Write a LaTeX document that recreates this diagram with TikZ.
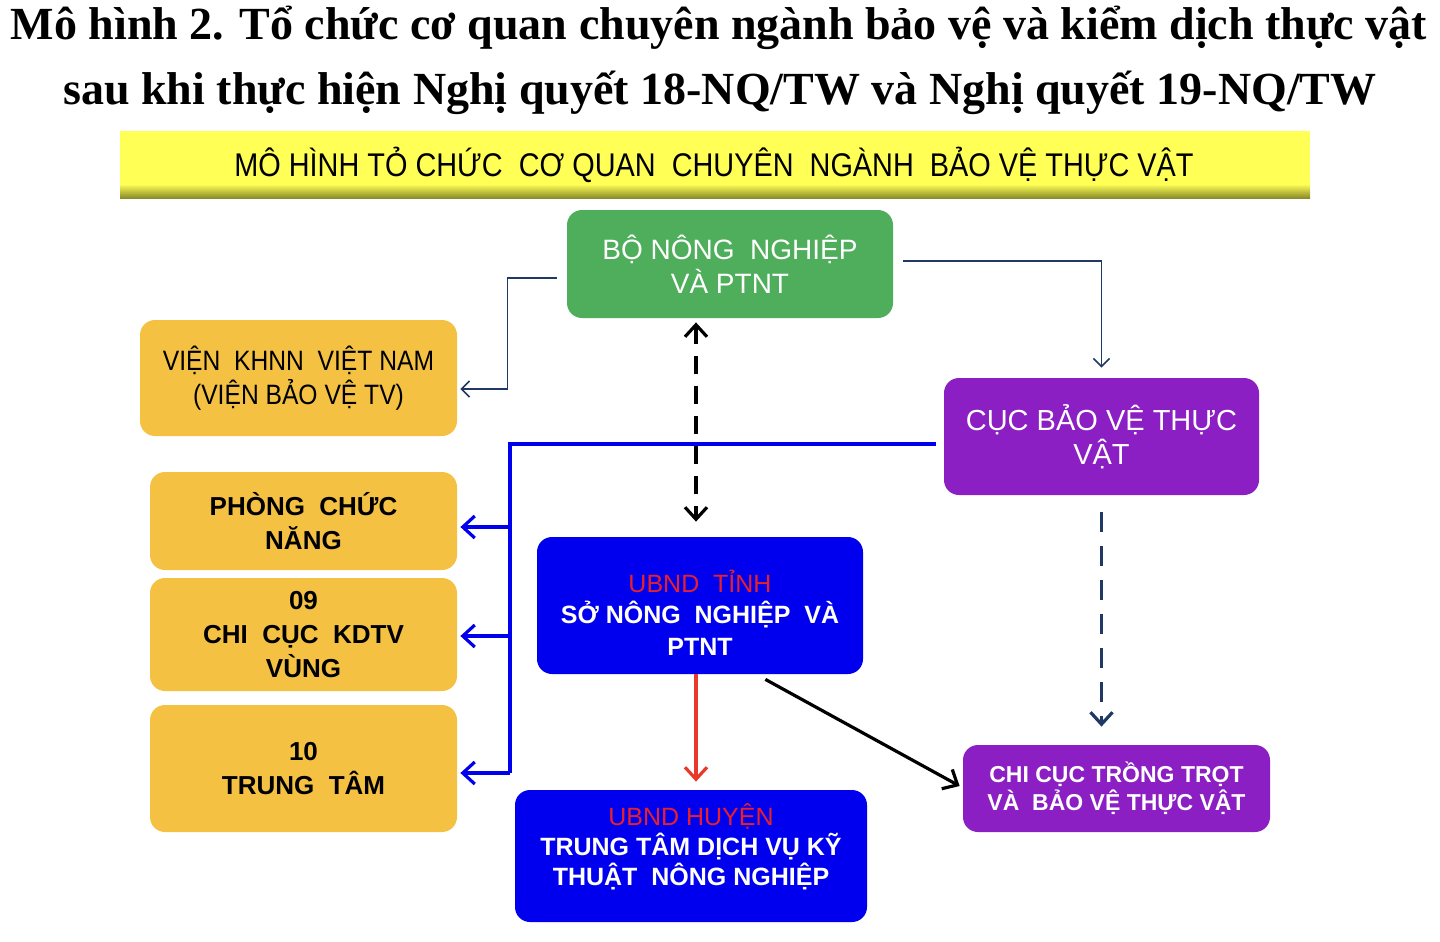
\documentclass[tikz,border=0pt]{standalone}
\usepackage{fontspec}
\setmainfont{Liberation Serif}
\newfontfamily\boxfont{Liberation Sans}
\newfontfamily\narrowfont[FakeStretch=0.88]{Liberation Sans}
\usetikzlibrary{arrows.meta,calc}

\definecolor{gold}{HTML}{F4C142}
\definecolor{leaf}{HTML}{4FAE5B}
\definecolor{violet}{HTML}{8B1FC3}
\definecolor{royal}{HTML}{0000EE}
\definecolor{navy}{HTML}{1F3864}
\definecolor{ubndred}{HTML}{E8202A}
\definecolor{arrowred}{HTML}{E8392B}
\definecolor{banner}{HTML}{FFFF55}
\definecolor{olive}{HTML}{8C8C2A}

\tikzset{
  box/.style={rounded corners=7.5pt, inner sep=0pt, align=center, font=\boxfont\fontsize{13}{17}\selectfont},
  goldbox/.style={box, fill=gold, text=black, font=\boxfont\bfseries\fontsize{13}{17}\selectfont},
  greenbox/.style={box, fill=leaf, text=white},
  purplebox/.style={box, fill=violet, text=white},
  bluebox/.style={box, fill=royal, text=white, font=\boxfont\bfseries\fontsize{12.5}{15}\selectfont},
  thin tip/.style={-{Straight Barb[length=4pt,width=8pt]}},
  thick tip/.style={-{Straight Barb[length=6pt,width=11pt,line width=1.6pt]}},
  navyline/.style={draw=navy, line width=0.8pt},
  blueline/.style={draw=royal, line width=1.6pt},
  navydash/.style={draw=navy, line width=1.6pt, dash pattern=on 10pt off 7pt},
  blackdash/.style={draw=black, line width=1.6pt, dash pattern=on 9pt off 6pt},
  redline/.style={draw=arrowred, line width=1.6pt},
  blackline/.style={draw=black, line width=1.6pt}
}

\begin{document}
\begin{tikzpicture}[x=0.5pt, y=-0.5pt]
	\useasboundingbox (0,0) rectangle (1440,942);
	%title
	\node[font=\bfseries\fontsize{23}{28}\selectfont] (t1) at (719,28) {Mô hình 2. Tổ chức cơ quan chuyên ngành bảo vệ và kiểm dịch thực vật};
	\node[font=\bfseries\fontsize{23}{28}\selectfont] (t2) at (720,93) {sau khi thực hiện Nghị quyết 18-NQ/TW và Nghị quyết 19-NQ/TW};

	%banner
	\shade[top color=banner, bottom color=olive] (120,184) rectangle (1310,198);
	\node[fill=banner, minimum width=595pt, minimum height=26.5pt, inner sep=0pt] (ban) at (715,157.5) {};
	\node[font=\narrowfont\fontsize{16.4}{18}\selectfont] (bantext) at (714,165) {MÔ HÌNH TỎ CHỨC\ \ CƠ QUAN\ \ CHUYÊN\ \ NGÀNH\ \ BẢO VỆ THỰC VẬT};

	%boxes
	\node[greenbox, font=\boxfont\fontsize{14}{17}\selectfont, minimum width=163pt, minimum height=54pt] (bnn) at (730,264) {BỘ NÔNG\ \ NGHIỆP\\VÀ PTNT};
	\node[goldbox, font=\narrowfont\fontsize{14}{17}\selectfont, minimum width=158.5pt, minimum height=58pt] (vien) at (298.5,378) {VIỆN\ \ KHNN\ \ VIỆT NAM\\(VIỆN BẢO VỆ TV)};
	\node[purplebox, font=\boxfont\fontsize{14.5}{17}\selectfont, minimum width=157.5pt, minimum height=58.5pt] (cuc) at (1101.5,436.5) {CỤC BẢO VỆ THỰC\\VẬT};
	\node[goldbox, minimum width=153.5pt, minimum height=49pt] (phong) at (303.5,521) {PHÒNG\ \ CHỨC\\NĂNG};
	\node[goldbox, minimum width=153.5pt, minimum height=56.5pt] (chicuc) at (303.5,634.5) {09\\CHI\ \ CỤC\ \ KDTV\\VÙNG};
	\node[goldbox, minimum width=153.5pt, minimum height=63.5pt] (trungtam) at (303.5,768.5) {\\[-8pt]10\\TRUNG\ \ TÂM};
	\node[bluebox, minimum width=163pt, minimum height=68.5pt] (tinh) at (700,605.5) {\\[3pt]\textcolor{ubndred}{\mdseries UBND\ \ TỈNH}\\[0.5pt]SỞ NÔNG\ \ NGHIỆP\ \ VÀ\\[1pt]PTNT};
	\node[bluebox, minimum width=176pt, minimum height=66pt] (huyen) at (691,856) {\textcolor{ubndred}{\mdseries UBND HUYỆN}\\TRUNG\ TÂM\ DỊCH VỤ KỸ\\THUẬT\ \ NÔNG NGHIỆP\\[-4pt]};
	\node[purplebox, font=\boxfont\bfseries\fontsize{11.5}{14}\selectfont, minimum width=153.5pt, minimum height=43.5pt] (cctt) at (1116.5,788.5) {CHI CỤC TRỒNG TRỌT\\VÀ\ \ BẢO VỆ THỰC VẬT};

	%connectors
	\draw[navyline,thin tip] ($(bnn.west)+(-5pt,-7pt)$) -| ($(vien.east)+(25pt,-5.5pt)$) -- ($(vien.east)+(1.5pt,-5.5pt)$);
	\draw[navyline,thin tip] ($(bnn.east)+(5pt,1.5pt)$) -| ($(cuc.north)+(0pt,5pt)$);
	\draw[blackdash,{Straight Barb[length=6pt,width=11pt,line width=1.6pt]}-{Straight Barb[length=6pt,width=11pt,line width=1.6pt]}] ($(tinh.north |- bnn.south)+(-2pt,-2pt)$) -- ($(tinh.north)+(-2pt,7.5pt)$);
	%
	\coordinate (bt) at (510,444);
	\coordinate (bb) at (510,773);
	\draw[blueline] ($(cuc.west)+(-4pt,-3.75pt)$) -- (bt) -- (bb);
	\foreach \n/\dy in {phong/-3pt, chicuc/-0.75pt, trungtam/-2.25pt}
		\draw[blueline,thick tip] ($(bt |- \n.east)+(0pt,\dy)$) -- ($(\n.east)+(1.5pt,\dy)$);
	%
	\draw[navydash,thick tip] ($(cuc.south)+(0pt,-8.5pt)$) -- ($(cuc.south |- cctt.north)+(0pt,9pt)$);
	\draw[redline,thick tip] ($(tinh.south)+(-2pt,0pt)$) -- ($(tinh.south |- huyen.north)+(-2pt,4pt)$);
	\draw[blackline,thick tip] ($(tinh.south east)+(-49pt,-2.5pt)$) -- ($(cctt.west)+(-1.5pt,1.25pt)$);
\end{tikzpicture}
\end{document}
